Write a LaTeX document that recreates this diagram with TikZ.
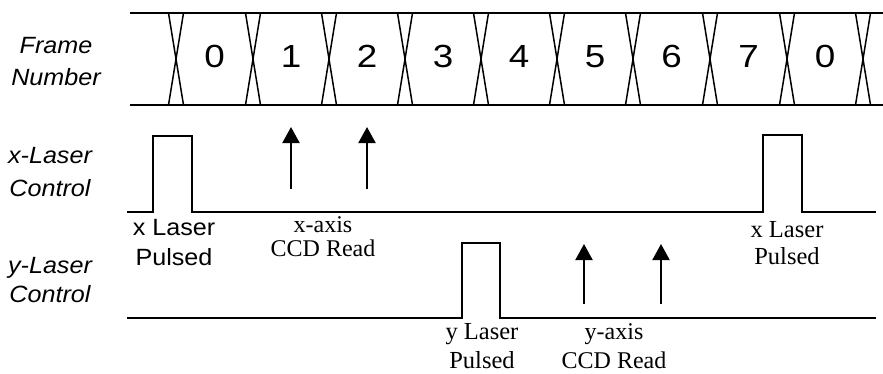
\documentclass[tikz,border=0pt]{standalone}
\usepackage{fontspec}
\setmainfont{Liberation Serif}
\newfontfamily\arialfam[FakeStretch=1.07]{Liberation Sans}
\newfontfamily\digfam[FakeStretch=1.15]{Liberation Sans}
\usetikzlibrary{arrows.meta}
\newcommand\stk[4]{{\fontsize{#1}{#2}\selectfont\begin{tabular}[t]{@{}c@{}}#3\\#4\end{tabular}}}
\tikzset{
  lbl/.style={anchor=base, inner sep=0pt, outer sep=0pt},
  busline/.style={line width=2pt},
  xline/.style={line width=1.5pt},
  trace/.style={line width=2.2pt, line join=miter},
  readarrow/.style={line width=2pt, -{Triangle[width=17pt,length=16pt]}},
  digit/.style={anchor=base, inner sep=0pt, font=\digfam\fontsize{32}{32}\selectfont},
}
\begin{document}
\begin{tikzpicture}[x=1pt,y=-1pt]
\useasboundingbox (0,0) rectangle (883,373);
% left labels
\node[lbl] (lframe) at (56,53) {\arialfam\itshape\stk{23.5}{32}{Frame}{Number}};
\node[lbl] (lxlas) at (50,163) {\arialfam\itshape\stk{23.5}{33}{x-Laser}{Control}};
\node[lbl] (lylas) at (50,273) {\arialfam\itshape\stk{23.5}{29}{y-Laser}{Control}};
% frame bus
\draw[busline] (130,13) -- (883,13);
\draw[busline] (130,105) -- (883,105);
\foreach \c in {176,253,329,405,481,557,633,710,787,863}{
  \draw[xline] (\c-7.5,13) -- (\c+7.5,105);
  \draw[xline] (\c+7.5,13) -- (\c-7.5,105);
}
\node[digit] (f0) at (214.5,67) {0};
\node[digit] (f1) at (291,67) {1};
\node[digit] (f2) at (367,67) {2};
\node[digit] (f3) at (443,67) {3};
\node[digit] (f4) at (519,67) {4};
\node[digit] (f5) at (595,67) {5};
\node[digit] (f6) at (671.5,67) {6};
\node[digit] (f7) at (748.5,67) {7};
\node[digit] (f8) at (825,67) {0};
% x-laser trace
\draw[trace] (127,212) -- (153,212) -- (153,136) -- (192,136) -- (192,212) -- (763,212) -- (763,135) -- (802,135) -- (802,212) -- (876,212);
% y-laser trace
\draw[trace] (127,318) -- (462,318) -- (462,243) -- (500,243) -- (500,318) -- (876,318);
% read arrows
\coordinate (xa1s) at (291,189); \coordinate (xa1e) at (291,127);
\coordinate (xa2s) at (367,189); \coordinate (xa2e) at (367,127);
\coordinate (ya1s) at (584,304); \coordinate (ya1e) at (584,244);
\coordinate (ya2s) at (661,304); \coordinate (ya2e) at (661,244);
\draw[readarrow] (xa1s) -- (xa1e);
\draw[readarrow] (xa2s) -- (xa2e);
\draw[readarrow] (ya1s) -- (ya1e);
\draw[readarrow] (ya2s) -- (ya2e);
% annotations
\node[lbl] (xpul1) at (174,235) {\arialfam\stk{23.5}{30}{x Laser}{Pulsed}};
\node[lbl] (xread) at (323,232) {\stk{24}{24.5}{x-axis}{CCD Read}};
\node[lbl] (ypul) at (482,339) {\stk{24.5}{29}{y Laser}{Pulsed}};
\node[lbl] (yread) at (614,339) {\stk{24}{29}{y-axis}{CCD Read}};
\node[lbl] (xpul2) at (787,237) {\stk{24.5}{27.5}{x Laser}{Pulsed}};
\end{tikzpicture}
\end{document}
